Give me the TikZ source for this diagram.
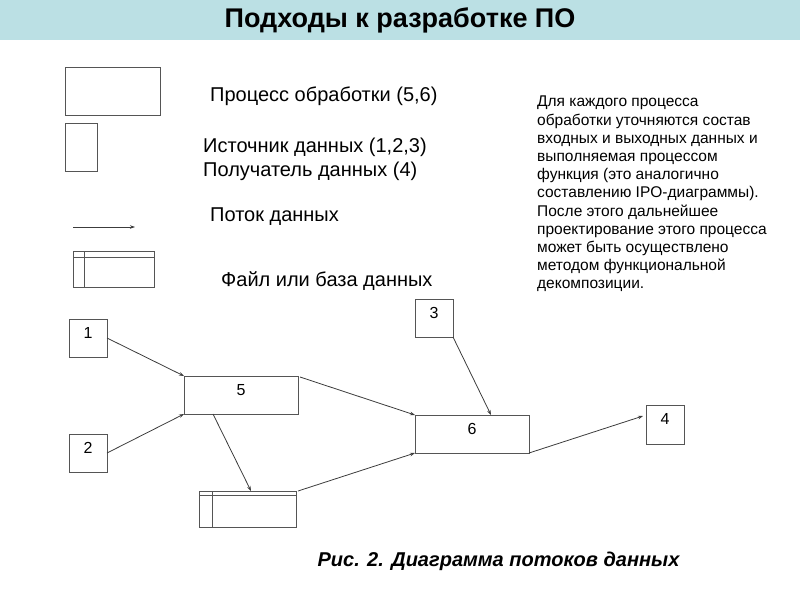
\documentclass[tikz,border=0pt]{standalone}
\usepackage{fontspec}
\setmainfont{Liberation Sans}
\usetikzlibrary{arrows.meta,calc}
\definecolor{titlebg}{RGB}{187,224,228}
\definecolor{boxline}{RGB}{85,85,85}
\definecolor{arrline}{RGB}{60,60,60}
\tikzset{
  box/.style={draw=boxline,line width=0.9pt,minimum width=#1,inner sep=0pt,outer sep=0pt},
  flow/.style={draw=arrline,line width=0.8pt,-{Stealth[length=5pt,width=3.5pt]}},
  legendtext/.style={font=\fontsize{20}{24}\selectfont,anchor=west,inner sep=0pt},
  numlabel/.style={font=\fontsize{16}{18}\selectfont,inner sep=0pt,anchor=north}
}
\begin{document}
\begin{tikzpicture}[x=1pt,y=-1pt]
\useasboundingbox (0,0) rectangle (800,600);
% title bar
\fill[titlebg] (0,0) rectangle (800,40);
\node[font=\bfseries\fontsize{27}{30}\selectfont,inner sep=0pt] (title) at (400,20) {Подходы к разработке ПО};

% legend shapes
\draw[boxline,line width=0.9pt] (65,67) rectangle (160,115);
\draw[boxline,line width=0.9pt] (65,123) rectangle (97,171);
\coordinate (la) at (73,227);
\coordinate (lb) at (135,227);
\draw[flow] (la) -- (lb);
\draw[boxline,line width=0.9pt] (73,251) rectangle (154,287);
\draw[boxline,line width=0.9pt] (73,257) -- (154,257);
\draw[boxline,line width=0.9pt] (84,251) -- (84,287);

% legend texts
\node[legendtext] (t1) at (210,96) {Процесс обработки (5,6)};
\node[legendtext] (t2) at (203,147) {Источник данных (1,2,3)};
\node[legendtext] (t3) at (203,171) {Получатель данных (4)};
\node[legendtext] (t4) at (210,217) {Поток данных};
\node[legendtext] (t5) at (221,281) {Файл или база данных};

% right paragraph
\node[anchor=north west,align=left,inner sep=0pt,font=\fontsize{15.5}{18.2}\selectfont] (para) at (537,96) {Для каждого процесса\\обработки уточняются состав\\входных и выходных данных и\\выполняемая процессом\\функция (это аналогично\\составлению IPO-диаграммы).\\После этого дальнейшее\\проектирование этого процесса\\может быть осуществлено\\методом функциональной\\декомпозиции.};

% diagram boxes
\node[box=38pt,minimum height=38pt] (n1) at (88,338) {};
\node[box=38pt,minimum height=38pt] (n2) at (88,453) {};
\node[box=114pt,minimum height=38pt] (n5) at (241,395) {};
\node[box=38pt,minimum height=38pt] (n3) at (434,318) {};
\node[box=114pt,minimum height=38pt] (n6) at (472,434) {};
\node[box=38pt,minimum height=39pt] (n4) at (665,424.5) {};
\node[box=97pt,minimum height=36pt] (nf) at (247.5,509) {};
\draw[boxline,line width=0.9pt] ($(nf.north west)+(0,4)$) -- ($(nf.north east)+(0,4)$);
\draw[boxline,line width=0.9pt] ($(nf.north west)+(13,0)$) -- ($(nf.south west)+(13,0)$);

\node[numlabel] at ($(n1.north)+(0,8)$) {1};
\node[numlabel] at ($(n2.north)+(0,8)$) {2};
\node[numlabel] at ($(n5.north)+(0,8)$) {5};
\node[numlabel] at ($(n3.north)+(0,8)$) {3};
\node[numlabel] at ($(n6.north)+(0,8)$) {6};
\node[numlabel] at ($(n4.north)+(0,8)$) {4};

% connectors
\draw[flow] (n1.east) -- (n5.north west);
\draw[flow] (n2.east) -- (n5.south west);
\draw[flow] ($(n5.south west)+(29,0)$) -- ($(nf.north west)+(52,0)$);
\draw[flow] ($(n5.north east)+(2,1)$) -- (n6.north west);
\draw[flow] ($(nf.north east)+(2,0)$) -- (n6.south west);
\draw[flow] (n3.south east) -- ($(n6.north west)+(76,0)$);
\draw[flow] (n6.south east) -- ($(n4.north west)+(-3,11)$);

% caption
\node[font=\bfseries\itshape\fontsize{20}{22}\selectfont,inner sep=0pt] (cap) at (498.5,561) {Рис. 2. Диаграмма потоков данных};
\end{tikzpicture}
\end{document}
